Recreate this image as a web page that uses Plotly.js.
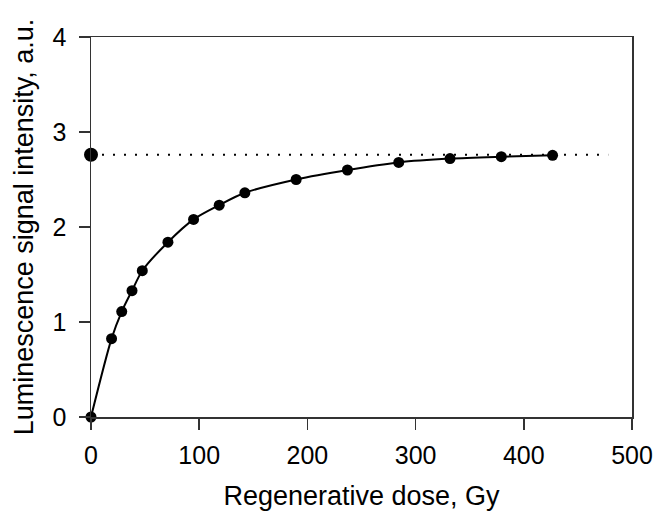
<!DOCTYPE html>
<html>
<head>
<meta charset="utf-8">
<script src="https://cdn.plot.ly/plotly-3.0.1.min.js"></script>
<style>html,body{margin:0;padding:0;background:#fff;}#chart{width:656px;height:512px;}</style>
</head>
<body>
<div id="chart"></div>
<script>
var doses = [0, 19, 28.4, 37.9, 47.4, 71.1, 94.8, 118.5, 142.2, 189.6, 237, 284.4, 331.8, 379.2, 426.6];
var signal = [0, 0.825, 1.11, 1.33, 1.54, 1.84, 2.08, 2.23, 2.36, 2.50, 2.60, 2.68, 2.72, 2.74, 2.755];
var naturalDose = [0];
var naturalSignal = [2.76];
var refLineX = [0, 478];
var refLineY = [2.76, 2.76];
var xTicks = [0, 100, 200, 300, 400, 500];
var yTicks = [0, 1, 2, 3, 4];

var font = "Liberation Sans, Arial, sans-serif";
var traces = [
  {x: refLineX, y: refLineY, mode: 'lines', line: {color: '#000', width: 2, dash: '2px,9px'}, hoverinfo: 'skip'},
  {x: doses, y: signal, mode: 'lines+markers', line: {color: '#000', width: 2, shape: 'spline', smoothing: 0.8},
   marker: {color: '#000', size: 11}, cliponaxis: false},
  {x: naturalDose, y: naturalSignal, mode: 'markers', marker: {color: '#000', size: 14}, cliponaxis: false}
];
var layout = {
  width: 656, height: 512,
  margin: {l: 90.5, r: 24, t: 37, b: 95},
  showlegend: false,
  plot_bgcolor: '#fff', paper_bgcolor: '#fff',
  font: {family: font, color: '#000', size: 25},
  xaxis: {
    range: [0, 500], tickvals: xTicks, ticks: 'outside', ticklen: 11, tickwidth: 1.5, tickcolor: '#333',
    showline: true, linecolor: '#333', linewidth: 1.5, mirror: true, showgrid: false, zeroline: false,
    ticklabelstandoff: 4,
    tickfont: {size: 25}, title: {text: 'Regenerative dose, Gy', font: {size: 27}, standoff: 18}
  },
  yaxis: {
    range: [0, 4], tickvals: yTicks, ticks: 'outside', ticklen: 11, tickwidth: 1.5, tickcolor: '#333',
    showline: true, linecolor: '#333', linewidth: 1.5, mirror: true, showgrid: false, zeroline: false,
    ticklabelstandoff: 7,
    tickfont: {size: 25}, title: {text: 'Luminescence signal intensity, a.u.', font: {size: 27}, standoff: 11}
  }
};
Plotly.newPlot('chart', traces, layout, {displayModeBar: false, staticPlot: true});
</script>
</body>
</html>
